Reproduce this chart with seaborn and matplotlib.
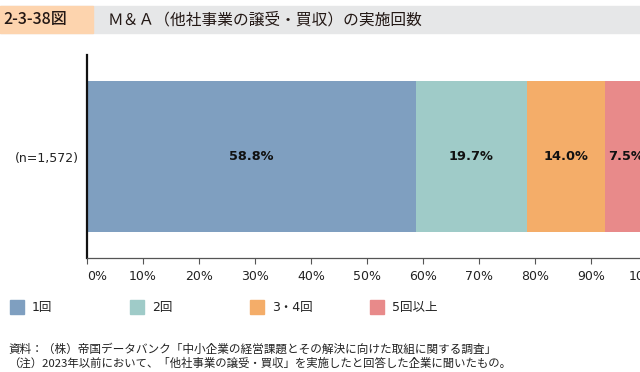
import matplotlib
matplotlib.use("Agg")
import matplotlib.pyplot as plt
from matplotlib.patches import Rectangle
import pandas as pd
import seaborn as sns

# data
group = "(n=1,572)"
categories = ["1回", "2回", "3・4回", "5回以上"]
shares = [58.8, 19.7, 14.0, 7.5]
tick_values = [0, 10, 20, 30, 40, 50, 60, 70, 80, 90, 100]
tick_labels = [f"{v}%" for v in tick_values]
colors = ["#7f9fc0", "#9fcbc8", "#f4ad69", "#e88a8a"]

fig_title_no = "2-3-38図"
fig_title = "Ｍ＆Ａ（他社事業の譲受・買収）の実施回数"
source_note = "資料：（株）帝国データバンク「中小企業の経営課題とその解決に向けた取組に関する調査」"
extra_note = "（注）2023年以前において、「他社事業の譲受・買収」を実施したと回答した企業に聞いたもの。"

sns.set_style("white")
plt.rcParams["font.family"] = ["DejaVu Sans", "Noto Sans CJK JP"]

cum = []
total = 0.0
for s in shares:
    total += s
    cum.append(total)
starts = [c - s for c, s in zip(cum, shares)]

df = pd.DataFrame({"group": group, "category": categories, "cum": cum})

W, H = 640, 372
fig = plt.figure(figsize=(W / 100, H / 100), dpi=100)

# header band
fig.patches.append(Rectangle((0, 1 - 33 / H), 1, 27 / H, transform=fig.transFigure,
                             color="#e6e7e8", zorder=0))
fig.patches.append(Rectangle((0, 1 - 33 / H), 93 / W, 27 / H, transform=fig.transFigure,
                             color="#fdd4ae", zorder=1))
fig.text(3 / W, 1 - 19.5 / H, fig_title_no, fontsize=11.5, fontweight="medium",
         family=["Noto Sans CJK JP"], color="#231815", va="center", ha="left")
fig.text(108 / W, 1 - 19.5 / H, fig_title, fontsize=11.3,
         family=["Noto Sans CJK JP"], color="#231815", va="center", ha="left")

# axes run past the right edge, as in the reference crop
ax = fig.add_axes([87 / W, (H - 258) / H, 560 / W, 203 / H])
sns.barplot(data=df, x="cum", y="group", hue="category", hue_order=categories[::-1],
            palette=dict(zip(categories, colors)), dodge=False, width=0.74,
            orient="h", saturation=1, linewidth=0, legend=False, ax=ax)
ax.set_xlim(0, 100)
ax.set_ylim(0.5, -0.5)
ax.set_xlabel("")
ax.set_ylabel("")

for s0, s in zip(starts, shares):
    ax.text(s0 + s / 2, 0, f"{s:.1f}%", ha="center", va="center",
            fontsize=9.3, fontweight="bold", color="#111111", clip_on=False)

ax.set_xticks(tick_values)
ax.set_xticklabels(tick_labels, fontsize=9, color="#222222")
ax.get_xticklabels()[0].set_horizontalalignment("left")
ax.tick_params(axis="x", direction="out", length=4, width=0.8, color="#555555", pad=5,
               bottom=True)
ax.tick_params(axis="y", length=0, pad=6, labelsize=9, labelcolor="#222222")
for side in ["top", "right"]:
    ax.spines[side].set_visible(False)
ax.spines["left"].set_color("#111111")
ax.spines["left"].set_linewidth(1.6)
ax.spines["bottom"].set_color("#555555")
ax.spines["bottom"].set_linewidth(0.9)

# legend drawn by hand, one swatch every 120 px
for i, (cat, col) in enumerate(zip(categories, colors)):
    x0 = 10 + i * 120
    fig.patches.append(Rectangle((x0 / W, 1 - 314 / H), 14 / W, 14 / H,
                                 transform=fig.transFigure, color=col))
    fig.text((x0 + 22) / W, 1 - 307 / H, cat, fontsize=9, color="#222222",
             va="center", ha="left")

fig.text(8 / W, 1 - 349 / H, source_note, fontsize=8.4, color="#222222",
         va="center", ha="left", family=["Noto Sans CJK JP"])
fig.text(8 / W, 1 - 363 / H, extra_note, fontsize=8.2, color="#222222",
         va="center", ha="left", family=["Noto Sans CJK JP"])

fig.savefig("out.png", dpi=100)
